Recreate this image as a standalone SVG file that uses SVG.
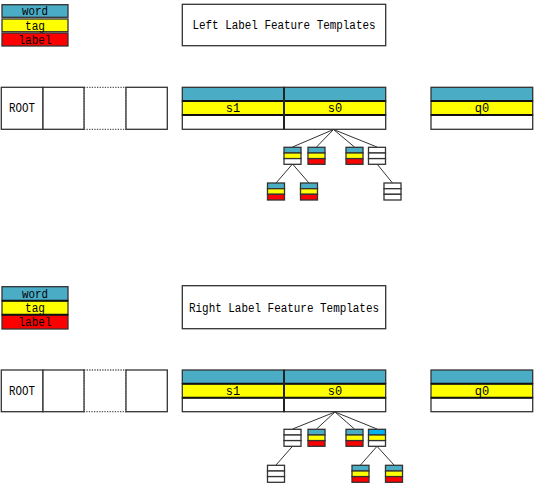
<svg xmlns="http://www.w3.org/2000/svg" width="534" height="484" viewBox="0 0 534 484">
<style>
text{font-family:"Liberation Mono","DejaVu Sans Mono",monospace;font-size:12px;fill:#000;text-anchor:middle}
.b{stroke:#333;stroke-width:1.3}
.t{fill:#4BACC6}.y{fill:#FFFF00}.r{fill:#FF0000}.w{fill:#FFFFFF}.s{fill:#00B0F0}
.sep{stroke:#111;stroke-width:2}
.e{stroke:#333;stroke-width:1;fill:none}
.dot{fill:#fff;stroke:#555;stroke-width:1.3;stroke-dasharray:1.3 1.3}
</style>
<defs>
<g id="n-tyr"><rect class="t b" x="0" y="0" width="17" height="5.7"/><rect class="y b" x="0" y="5.7" width="17" height="5.6"/><rect class="r b" x="0" y="11.3" width="17" height="5.7"/></g>
<g id="n-tyw"><rect class="t b" x="0" y="0" width="17" height="5.7"/><rect class="y b" x="0" y="5.7" width="17" height="5.6"/><rect class="w b" x="0" y="11.3" width="17" height="5.7"/></g>
<g id="n-syw"><rect class="s b" x="0" y="0" width="17" height="5.7"/><rect class="y b" x="0" y="5.7" width="17" height="5.6"/><rect class="w b" x="0" y="11.3" width="17" height="5.7"/></g>
<g id="n-www"><rect class="w b" x="0" y="0" width="17" height="5.7"/><rect class="w b" x="0" y="5.7" width="17" height="5.6"/><rect class="w b" x="0" y="11.3" width="17" height="5.7"/></g>
</defs>

<!-- ===== TOP PANEL ===== -->
<g id="legend-top">
<rect class="t b" x="2" y="4.7" width="66" height="12.6"/><text x="35" y="15.3" textLength="26" lengthAdjust="spacingAndGlyphs">word</text>
<rect class="y b" x="2" y="19" width="66" height="12.7"/><text x="35" y="29.5" textLength="20" lengthAdjust="spacingAndGlyphs">tag</text>
<rect class="r b" x="2" y="33" width="66" height="13"/><text x="35" y="43.5" textLength="33" lengthAdjust="spacingAndGlyphs">label</text>
</g>
<g id="title-top">
<rect x="182.3" y="4.3" width="203.4" height="41.4" fill="#fff" class="b"/>
<text x="284" y="29.3" textLength="183" lengthAdjust="spacingAndGlyphs">Left Label Feature Templates</text>
</g>
<g id="root-row-top">
<rect class="dot" x="84" y="87.3" width="42" height="42"/>
<rect class="w b" x="1.3" y="87.3" width="41.7" height="42"/><text x="22" y="112" textLength="26" lengthAdjust="spacingAndGlyphs">ROOT</text>
<rect class="w b" x="43" y="87.3" width="41" height="42"/>
<rect class="w b" x="126" y="87.3" width="41.3" height="42"/>
</g>
<g id="stack-top">
<rect class="t b" x="182.3" y="87.3" width="101.7" height="13.7"/>
<rect class="y b" x="182.3" y="101" width="101.7" height="14"/>
<rect class="w b" x="182.3" y="115" width="101.7" height="14.3"/>
<text x="233" y="112">s1</text>
<rect class="t b" x="284" y="87.3" width="101.7" height="13.7"/>
<rect class="y b" x="284" y="101" width="101.7" height="14"/>
<rect class="w b" x="284" y="115" width="101.7" height="14.3"/>
<text x="335" y="112">s0</text>
<line class="sep" x1="182.3" y1="101" x2="385.7" y2="101"/>
<line class="sep" x1="182.3" y1="115" x2="385.7" y2="115"/>
<line x1="284" y1="87.3" x2="284" y2="129.3" stroke="#222" stroke-width="2"/>
</g>
<g id="queue-top">
<rect class="t b" x="431" y="87.3" width="101.7" height="13.7"/>
<rect class="y b" x="431" y="101" width="101.7" height="14"/>
<rect class="w b" x="431" y="115" width="101.7" height="14.3"/>
<line class="sep" x1="431" y1="101" x2="532.7" y2="101"/>
<line class="sep" x1="431" y1="115" x2="532.7" y2="115"/>
<text x="482" y="112">q0</text>
</g>
<g id="connectors-top">
<line class="e" x1="333.5" y1="129.5" x2="292.5" y2="147"/>
<line class="e" x1="333.5" y1="129.5" x2="316.5" y2="147"/>
<line class="e" x1="333.5" y1="129.5" x2="354.5" y2="147"/>
<line class="e" x1="333.5" y1="129.5" x2="377" y2="147"/>
<line class="e" x1="292.5" y1="164" x2="276" y2="183"/>
<line class="e" x1="292.5" y1="164" x2="309" y2="183"/>
<line class="e" x1="377" y1="164" x2="392.5" y2="183"/>
</g>
<g id="tree-top">
<use href="#n-tyw" x="284" y="147.3"/>
<use href="#n-tyr" x="308" y="147.3"/>
<use href="#n-tyr" x="346" y="147.3"/>
<use href="#n-www" x="368.5" y="147.3"/>
<use href="#n-tyr" x="267.5" y="183"/>
<use href="#n-tyr" x="300.5" y="183"/>
<use href="#n-www" x="384" y="183"/>
</g>

<!-- ===== BOTTOM PANEL ===== -->
<g id="legend-bottom">
<rect class="t b" x="2" y="286.7" width="66" height="14"/><text x="35" y="298" textLength="26" lengthAdjust="spacingAndGlyphs">word</text>
<rect class="y b" x="2" y="300.7" width="66" height="14"/><text x="35" y="312" textLength="20" lengthAdjust="spacingAndGlyphs">tag</text>
<rect class="r b" x="2" y="314.7" width="66" height="14.3"/><text x="35" y="326" textLength="33" lengthAdjust="spacingAndGlyphs">label</text>
<line class="sep" x1="2" y1="300.7" x2="68" y2="300.7"/>
<line class="sep" x1="2" y1="314.7" x2="68" y2="314.7"/>
</g>
<g id="title-bottom">
<rect x="182.3" y="285.7" width="203.4" height="43" fill="#fff" class="b"/>
<text x="284" y="311.5" textLength="190" lengthAdjust="spacingAndGlyphs">Right Label Feature Templates</text>
</g>
<g id="root-row-bottom">
<rect class="dot" x="84" y="370" width="42" height="41.7"/>
<rect class="w b" x="1.3" y="370" width="41.7" height="41.7"/><text x="22" y="395" textLength="26" lengthAdjust="spacingAndGlyphs">ROOT</text>
<rect class="w b" x="43" y="370" width="41" height="41.7"/>
<rect class="w b" x="126" y="370" width="41.3" height="41.7"/>
</g>
<g id="stack-bottom">
<rect class="t b" x="182.3" y="370" width="101.7" height="13.7"/>
<rect class="y b" x="182.3" y="383.7" width="101.7" height="14"/>
<rect class="w b" x="182.3" y="397.7" width="101.7" height="14"/>
<text x="233" y="394.5">s1</text>
<rect class="t b" x="284" y="370" width="101.7" height="13.7"/>
<rect class="y b" x="284" y="383.7" width="101.7" height="14"/>
<rect class="w b" x="284" y="397.7" width="101.7" height="14"/>
<text x="335" y="394.5">s0</text>
<line class="sep" x1="182.3" y1="383.7" x2="385.7" y2="383.7"/>
<line class="sep" x1="182.3" y1="397.7" x2="385.7" y2="397.7"/>
<line x1="284" y1="370" x2="284" y2="411.7" stroke="#222" stroke-width="2"/>
</g>
<g id="queue-bottom">
<rect class="t b" x="431" y="370" width="101.7" height="13.7"/>
<rect class="y b" x="431" y="383.7" width="101.7" height="14"/>
<rect class="w b" x="431" y="397.7" width="101.7" height="14"/>
<line class="sep" x1="431" y1="383.7" x2="532.7" y2="383.7"/>
<line class="sep" x1="431" y1="397.7" x2="532.7" y2="397.7"/>
<text x="482" y="394.5">q0</text>
</g>
<g id="connectors-bottom">
<line class="e" x1="335" y1="412" x2="292.5" y2="429"/>
<line class="e" x1="335" y1="412" x2="316.5" y2="429"/>
<line class="e" x1="335" y1="412" x2="354.5" y2="429"/>
<line class="e" x1="335" y1="412" x2="377" y2="429"/>
<line class="e" x1="292.5" y1="446.3" x2="276" y2="465"/>
<line class="e" x1="377" y1="446.3" x2="360.5" y2="465"/>
<line class="e" x1="377" y1="446.3" x2="394" y2="465"/>
</g>
<g id="tree-bottom">
<use href="#n-www" x="284" y="429.3"/>
<use href="#n-tyr" x="308" y="429.3"/>
<use href="#n-tyr" x="346" y="429.3"/>
<use href="#n-syw" x="368.5" y="429.3"/>
<use href="#n-www" x="267.5" y="465.3"/>
<use href="#n-tyr" x="352" y="465.3"/>
<use href="#n-tyr" x="385.5" y="465.3"/>
</g>
</svg>
